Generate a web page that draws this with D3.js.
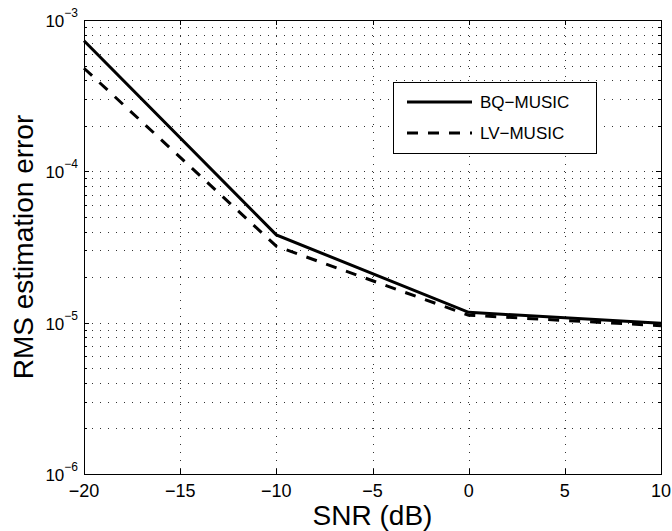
<!DOCTYPE html>
<html>
<head>
<meta charset="utf-8">
<script src="https://cdn.jsdelivr.net/npm/d3@7"></script>
<style>
  body { margin: 0; background: #fff; }
  svg { display: block; font-family: "Liberation Sans", Arial, sans-serif; }
</style>
</head>
<body>
<svg id="chart"></svg>
<script>
  // données
  var snr = [-20, -10, 0, 10];
  var bqMusic = [7.3e-4, 3.8e-5, 1.17e-5, 9.9e-6];
  var lvMusic = [4.8e-4, 3.2e-5, 1.12e-5, 9.55e-6];
  var xTicks = [-20, -15, -10, -5, 0, 5, 10];
  var yExponents = [-6, -5, -4, -3];
  var seriesNames = ["BQ\u2212MUSIC", "LV\u2212MUSIC"];

  var width = 672, height = 531;
  var margin = { top: 20, right: 11, bottom: 57, left: 84 };
  var w = width - margin.left - margin.right;
  var h = height - margin.top - margin.bottom;
  var dash = "11,10";

  var svg = d3.select("#chart").attr("width", width).attr("height", height);
  var g = svg.append("g").attr("transform", "translate(" + margin.left + "," + margin.top + ")");

  var x = d3.scaleLinear().domain([-20, 10]).range([0, w]);
  var y = d3.scaleLog().domain([1e-6, 1e-3]).range([h, 0]);

  // valeurs des graduations mineures
  var minorVals = [];
  yExponents.slice(0, -1).forEach(function (e) {
    for (var k = 2; k <= 9; k++) minorVals.push(k * Math.pow(10, e));
  });
  var majorVals = yExponents.map(function (e) { return Math.pow(10, e); });

  /***** Grille *****/
  var grid = g.append("g").attr("stroke", "#333").attr("stroke-width", 1)
    .attr("stroke-dasharray", "1,7");
  grid.selectAll(".hg").data(minorVals.concat(majorVals.slice(1, -1))).enter().append("line")
    .attr("x1", 0).attr("x2", w)
    .attr("y1", function (d) { return Math.round(y(d)) + 0.5; })
    .attr("y2", function (d) { return Math.round(y(d)) + 0.5; });
  grid.selectAll(".vg").data(xTicks.slice(1, -1)).enter().append("line")
    .attr("y1", 0).attr("y2", h)
    .attr("x1", function (d) { return Math.round(x(d)) + 0.5; })
    .attr("x2", function (d) { return Math.round(x(d)) + 0.5; });

  /***** Graduations *****/
  var ticks = g.append("g").attr("stroke", "#000").attr("stroke-width", 1);
  xTicks.forEach(function (d) {
    var px = Math.round(x(d)) + 0.5;
    ticks.append("line").attr("x1", px).attr("x2", px).attr("y1", h).attr("y2", h - 5);
    ticks.append("line").attr("x1", px).attr("x2", px).attr("y1", 0).attr("y2", 5);
  });
  majorVals.concat(minorVals).forEach(function (d, i) {
    var py = Math.round(y(d)) + 0.5;
    var len = i < majorVals.length ? 5 : 3;
    ticks.append("line").attr("x1", 0).attr("x2", len).attr("y1", py).attr("y2", py);
    ticks.append("line").attr("x1", w).attr("x2", w - len).attr("y1", py).attr("y2", py);
  });

  /***** Courbes *****/
  var line = d3.line()
    .x(function (d, i) { return x(snr[i]); })
    .y(function (d) { return y(d); });

  g.append("path").datum(lvMusic)
    .attr("d", line).attr("fill", "none").attr("stroke", "#000")
    .attr("stroke-width", 3).attr("stroke-dasharray", dash);
  g.append("path").datum(bqMusic)
    .attr("d", line).attr("fill", "none").attr("stroke", "#000")
    .attr("stroke-width", 3);

  /***** Cadre *****/
  g.append("rect").attr("x", 0.5).attr("y", 0.5).attr("width", w).attr("height", h)
    .attr("fill", "none").attr("stroke", "#000").attr("stroke-width", 1);

  /***** Étiquettes *****/
  g.selectAll(".xl").data(xTicks).enter().append("text")
    .attr("x", function (d) { return x(d); })
    .attr("y", h + 23)
    .attr("text-anchor", "middle")
    .attr("font-size", 18)
    .text(function (d) { return d < 0 ? "\u2212" + Math.abs(d) : d; });

  var yl = g.selectAll(".yl").data(yExponents).enter().append("text")
    .attr("x", -6)
    .attr("y", function (d) { return y(Math.pow(10, d)) + 7; })
    .attr("text-anchor", "end")
    .attr("font-size", 17);
  yl.append("tspan").text("10");
  yl.append("tspan").attr("dy", -10).attr("font-size", 12)
    .text(function (d) { return "\u2212" + Math.abs(d); });

  svg.append("text")
    .attr("x", margin.left + w / 2).attr("y", 525)
    .attr("text-anchor", "middle").attr("font-size", 28)
    .text("SNR (dB)");

  svg.append("text")
    .attr("transform", "translate(33," + (margin.top + h / 2) + ") rotate(-90)")
    .attr("text-anchor", "middle").attr("font-size", 28)
    .text("RMS estimation error");

  /***** Légende *****/
  var legend = svg.append("g").attr("transform", "translate(393,82)");
  legend.append("rect").attr("x", 0.5).attr("y", 0.5).attr("width", 203).attr("height", 71)
    .attr("fill", "#fff").attr("stroke", "#000").attr("stroke-width", 1);
  [20, 51].forEach(function (ly, i) {
    legend.append("line").attr("x1", 14).attr("x2", 79).attr("y1", ly).attr("y2", ly)
      .attr("stroke", "#000").attr("stroke-width", 3)
      .attr("stroke-dasharray", i === 1 ? dash : null);
    legend.append("text").attr("x", 87).attr("y", ly + 6)
      .attr("font-size", 17).text(seriesNames[i]);
  });
</script>
</body>
</html>
